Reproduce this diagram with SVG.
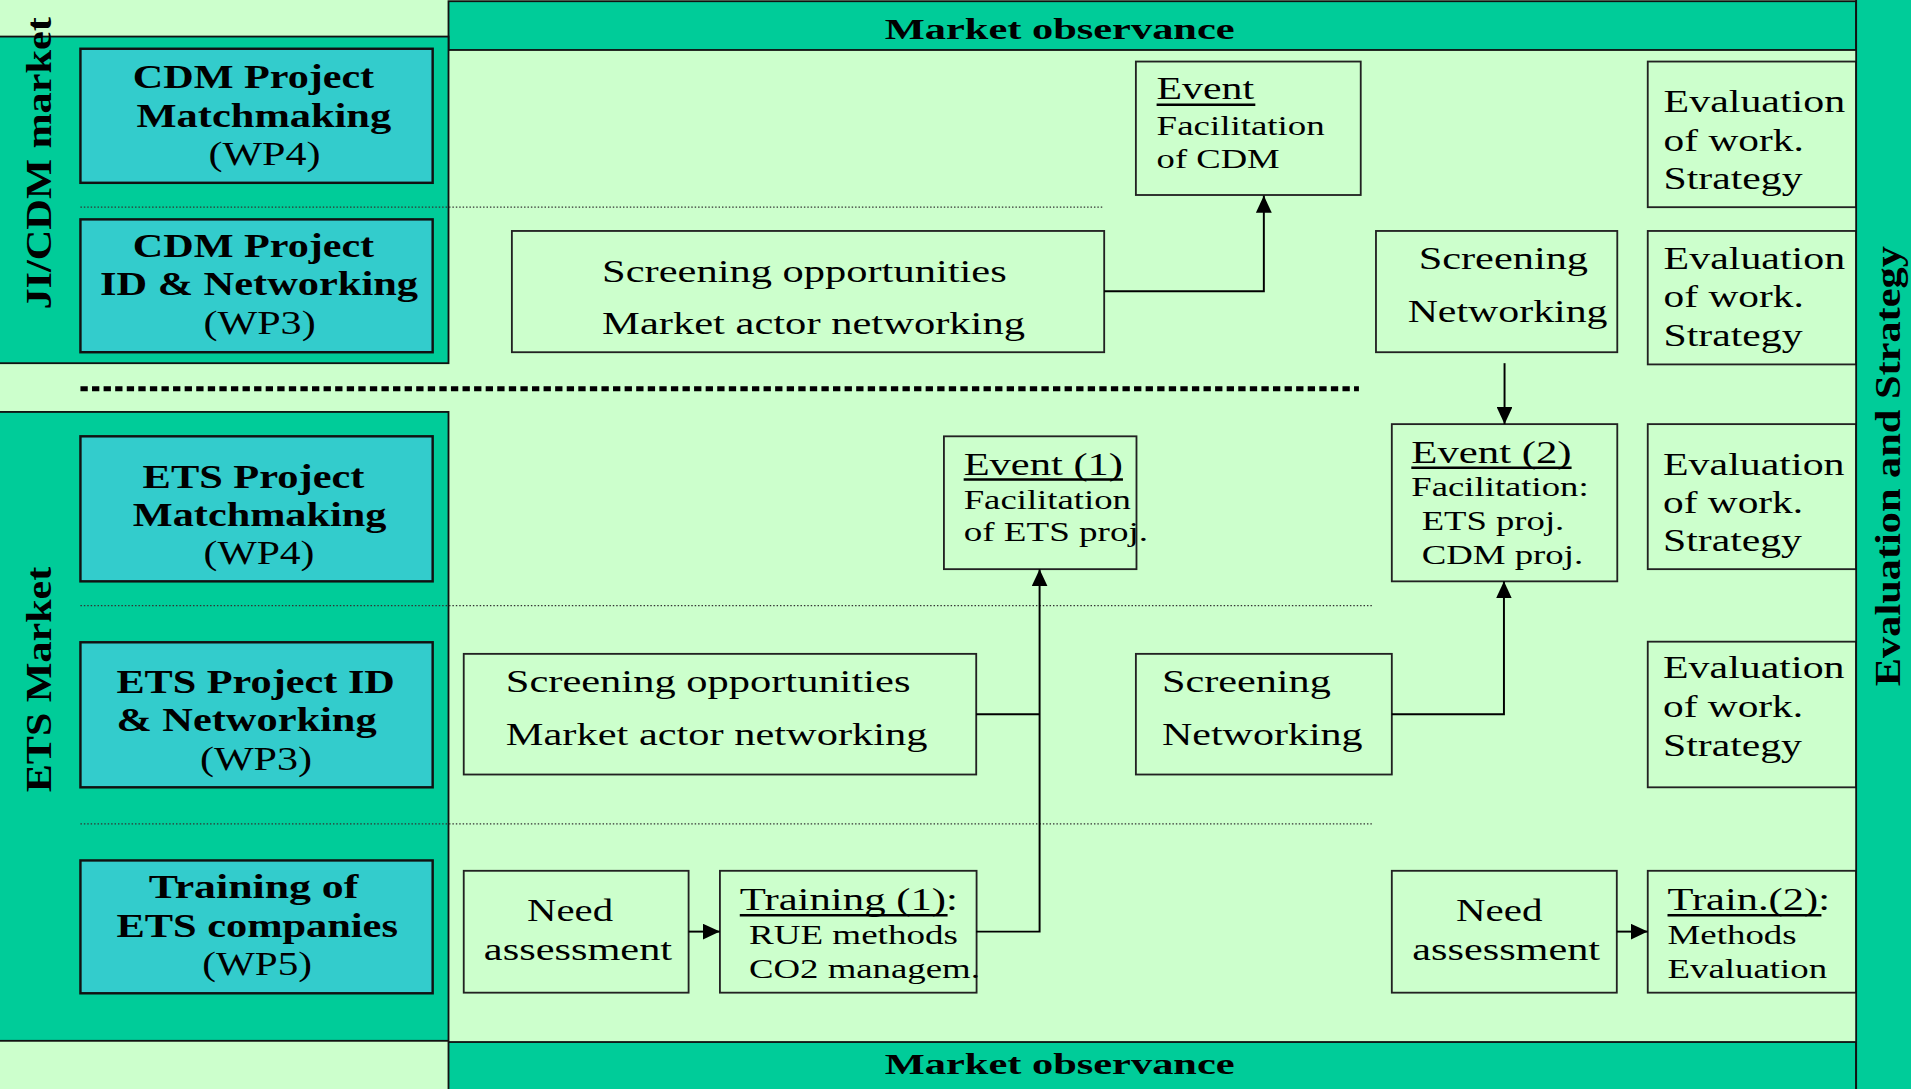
<svg xmlns="http://www.w3.org/2000/svg" width="1911" height="1089" viewBox="0 0 1911 1089">
<style>
.bg{fill:#CCFFCC}
.band{fill:#00CC99;stroke:#111;stroke-width:1.5}
.wp{fill:#33CCCC;stroke:#111;stroke-width:2}
.box{fill:#CCFFCC;stroke:#222;stroke-width:1.5}
text{font-family:"Liberation Serif","Times New Roman",serif;fill:#000}
.b{font-weight:bold;font-size:28px}
.r{font-size:28px}
.v{font-weight:bold;font-size:30px}
.mo{font-weight:bold;font-size:25px}
.t{font-size:26px}
.s{font-size:22px}
.ul{stroke:#000;stroke-width:2}
.conn{fill:none;stroke:#000;stroke-width:1.6}
.dot{stroke:#333;stroke-width:1;stroke-dasharray:1.2 1.6}
.dash{stroke:#000;stroke-width:4;stroke-dasharray:6 3.5}
</style>
<defs>
<marker id="ah" viewBox="0 0 14 13" refX="14" refY="6.5" markerWidth="14" markerHeight="13" orient="auto" markerUnits="userSpaceOnUse"><path d="M0,0 L14,6.5 L0,13 z" fill="#000"/></marker>
</defs>
<rect class="bg" x="0" y="0" width="1911" height="1089"/>
<g transform="scale(1.21875)">
<g id="market-observance-top">
<rect class="band" x="368" y="1" width="1155" height="40"/>
<text class="mo" x="726" y="32.3" textLength="287" lengthAdjust="spacingAndGlyphs">Market observance</text>
</g>
<g id="market-observance-bottom">
<rect class="band" x="368" y="855" width="1155" height="45"/>
<text class="mo" x="726" y="881" textLength="287" lengthAdjust="spacingAndGlyphs">Market observance</text>
</g>
<g id="ji-cdm-market">
<rect class="band" x="-2" y="30" width="370" height="268"/>
<text class="v" transform="translate(42,134) rotate(-90)" text-anchor="middle" textLength="240" lengthAdjust="spacingAndGlyphs">JI/CDM market</text>
</g>
<g id="ets-market">
<rect class="band" x="-2" y="338" width="370" height="516"/>
<text class="v" transform="translate(42,557.5) rotate(-90)" text-anchor="middle" textLength="185" lengthAdjust="spacingAndGlyphs">ETS Market</text>
</g>
<g id="dividers">
<line class="dot" x1="66" y1="170" x2="905" y2="170"/>
<line class="dash" x1="66" y1="319" x2="1115" y2="319"/>
<line class="dot" x1="66" y1="497" x2="1126" y2="497"/>
<line class="dot" x1="66" y1="676" x2="1126" y2="676"/>
</g>
<g id="cdm-matchmaking-wp4">
<rect class="wp" x="66" y="40" width="289" height="110"/>
<text class="b" x="109" y="72.5" textLength="198" lengthAdjust="spacingAndGlyphs">CDM Project</text>
<text class="b" x="112" y="104" textLength="209" lengthAdjust="spacingAndGlyphs">Matchmaking</text>
<text class="r" x="171" y="135.5" textLength="92" lengthAdjust="spacingAndGlyphs">(WP4)</text>
</g>
<g id="cdm-id-networking-wp3">
<rect class="wp" x="66" y="180" width="289" height="109"/>
<text class="b" x="109" y="211" textLength="198" lengthAdjust="spacingAndGlyphs">CDM Project</text>
<text class="b" x="82" y="242" textLength="261" lengthAdjust="spacingAndGlyphs">ID &amp; Networking</text>
<text class="r" x="167" y="274" textLength="92" lengthAdjust="spacingAndGlyphs">(WP3)</text>
</g>
<g id="ets-matchmaking-wp4">
<rect class="wp" x="66" y="358" width="289" height="119"/>
<text class="b" x="117" y="400" textLength="182" lengthAdjust="spacingAndGlyphs">ETS Project</text>
<text class="b" x="109" y="431.5" textLength="208" lengthAdjust="spacingAndGlyphs">Matchmaking</text>
<text class="r" x="167" y="463" textLength="91" lengthAdjust="spacingAndGlyphs">(WP4)</text>
</g>
<g id="ets-id-networking-wp3">
<rect class="wp" x="66" y="527" width="289" height="119"/>
<text class="b" x="95.5" y="568.5" textLength="228.5" lengthAdjust="spacingAndGlyphs">ETS Project ID</text>
<text class="b" x="95.5" y="600" textLength="213.5" lengthAdjust="spacingAndGlyphs">&amp; Networking</text>
<text class="r" x="164" y="632" textLength="92" lengthAdjust="spacingAndGlyphs">(WP3)</text>
</g>
<g id="training-ets-wp5">
<rect class="wp" x="66" y="706" width="289" height="109"/>
<text class="b" x="122" y="736.5" textLength="172" lengthAdjust="spacingAndGlyphs">Training of</text>
<text class="b" x="95.5" y="769" textLength="231" lengthAdjust="spacingAndGlyphs">ETS companies</text>
<text class="r" x="166" y="800" textLength="90" lengthAdjust="spacingAndGlyphs">(WP5)</text>
</g>
<g id="event-cdm">
<rect class="box" x="932" y="50.5" width="184.5" height="109.5"/>
<text class="t" x="949" y="81.3" textLength="80" lengthAdjust="spacingAndGlyphs">Event</text>
<line class="ul" x1="949" y1="86" x2="1030" y2="86"/>
<text class="s" x="949" y="111" textLength="138" lengthAdjust="spacingAndGlyphs">Facilitation</text>
<text class="s" x="949" y="138" textLength="101" lengthAdjust="spacingAndGlyphs">of CDM</text>
</g>
<g id="screening-cdm">
<rect class="box" x="420" y="189.5" width="486" height="99.5"/>
<text class="t" x="494" y="231" textLength="332" lengthAdjust="spacingAndGlyphs">Screening opportunities</text>
<text class="t" x="494" y="274" textLength="347" lengthAdjust="spacingAndGlyphs">Market actor networking</text>
</g>
<g id="screening-networking-cdm">
<rect class="box" x="1129" y="189.5" width="198" height="99.5"/>
<text class="t" x="1164" y="221" textLength="139" lengthAdjust="spacingAndGlyphs">Screening</text>
<text class="t" x="1155" y="264.6" textLength="164" lengthAdjust="spacingAndGlyphs">Networking</text>
</g>
<g id="evaluation-1">
<rect class="box" x="1352" y="50.5" width="171" height="119.5"/>
<text class="t" x="1365" y="91.7" textLength="149" lengthAdjust="spacingAndGlyphs">Evaluation</text>
<text class="t" x="1365" y="123.7" textLength="115" lengthAdjust="spacingAndGlyphs">of work.</text>
<text class="t" x="1365" y="155.4" textLength="114" lengthAdjust="spacingAndGlyphs">Strategy</text>
</g>
<g id="evaluation-2">
<rect class="box" x="1352" y="189.5" width="171" height="109.5"/>
<text class="t" x="1365" y="221" textLength="149" lengthAdjust="spacingAndGlyphs">Evaluation</text>
<text class="t" x="1365" y="252" textLength="115" lengthAdjust="spacingAndGlyphs">of work.</text>
<text class="t" x="1365" y="284" textLength="114" lengthAdjust="spacingAndGlyphs">Strategy</text>
</g>
<g id="event-1">
<rect class="box" x="774.5" y="358" width="158" height="109"/>
<text class="t" x="790.7" y="390" textLength="130.7" lengthAdjust="spacingAndGlyphs">Event (1)</text>
<line class="ul" x1="790.7" y1="393.5" x2="921.4" y2="393.5"/>
<text class="s" x="790.7" y="417.6" textLength="137.3" lengthAdjust="spacingAndGlyphs">Facilitation</text>
<text class="s" x="790.7" y="444" textLength="151.3" lengthAdjust="spacingAndGlyphs">of ETS proj.</text>
</g>
<g id="event-2">
<rect class="box" x="1142" y="348" width="185" height="129"/>
<text class="t" x="1158" y="380" textLength="131.5" lengthAdjust="spacingAndGlyphs">Event (2)</text>
<line class="ul" x1="1158" y1="383.8" x2="1289.5" y2="383.8"/>
<text class="s" x="1158" y="407" textLength="145.5" lengthAdjust="spacingAndGlyphs">Facilitation:</text>
<text class="s" x="1166.5" y="434.7" textLength="117" lengthAdjust="spacingAndGlyphs">ETS proj.</text>
<text class="s" x="1166.5" y="463" textLength="132.5" lengthAdjust="spacingAndGlyphs">CDM proj.</text>
</g>
<g id="evaluation-3">
<rect class="box" x="1352" y="348" width="171" height="119"/>
<text class="t" x="1364.5" y="389.5" textLength="149" lengthAdjust="spacingAndGlyphs">Evaluation</text>
<text class="t" x="1364.5" y="421" textLength="115" lengthAdjust="spacingAndGlyphs">of work.</text>
<text class="t" x="1364.5" y="452.5" textLength="114" lengthAdjust="spacingAndGlyphs">Strategy</text>
</g>
<g id="screening-ets">
<rect class="box" x="380.5" y="536.5" width="420.5" height="99"/>
<text class="t" x="415" y="568" textLength="332" lengthAdjust="spacingAndGlyphs">Screening opportunities</text>
<text class="t" x="415" y="611" textLength="346" lengthAdjust="spacingAndGlyphs">Market actor networking</text>
</g>
<g id="screening-networking-ets">
<rect class="box" x="932" y="536.5" width="210" height="99"/>
<text class="t" x="953.4" y="568" textLength="138.6" lengthAdjust="spacingAndGlyphs">Screening</text>
<text class="t" x="953.4" y="611.6" textLength="164.6" lengthAdjust="spacingAndGlyphs">Networking</text>
</g>
<g id="evaluation-4">
<rect class="box" x="1352" y="526.5" width="171" height="119.5"/>
<text class="t" x="1364.5" y="556.4" textLength="149" lengthAdjust="spacingAndGlyphs">Evaluation</text>
<text class="t" x="1364.5" y="588" textLength="115" lengthAdjust="spacingAndGlyphs">of work.</text>
<text class="t" x="1364.5" y="620" textLength="114" lengthAdjust="spacingAndGlyphs">Strategy</text>
</g>
<g id="need-assessment-1">
<rect class="box" x="380.5" y="714.5" width="184.5" height="100"/>
<text class="t" x="432.4" y="755.7" textLength="70.6" lengthAdjust="spacingAndGlyphs">Need</text>
<text class="t" x="397" y="787.7" textLength="154.5" lengthAdjust="spacingAndGlyphs">assessment</text>
</g>
<g id="training-1">
<rect class="box" x="590.7" y="714.5" width="210.6" height="100"/>
<text class="t" x="607" y="746.7" textLength="179" lengthAdjust="spacingAndGlyphs">Training (1):</text>
<line class="ul" x1="607" y1="751" x2="777.5" y2="751"/>
<text class="s" x="614.5" y="774.6" textLength="171.5" lengthAdjust="spacingAndGlyphs">RUE methods</text>
<text class="s" x="614.5" y="802.7" textLength="189.5" lengthAdjust="spacingAndGlyphs">CO2 managem.</text>
</g>
<g id="need-assessment-2">
<rect class="box" x="1142" y="714.5" width="184.6" height="100"/>
<text class="t" x="1194.6" y="755.7" textLength="71" lengthAdjust="spacingAndGlyphs">Need</text>
<text class="t" x="1158.8" y="787.7" textLength="154.1" lengthAdjust="spacingAndGlyphs">assessment</text>
</g>
<g id="training-2">
<rect class="box" x="1352" y="714.5" width="171" height="100"/>
<text class="t" x="1368.2" y="746.7" textLength="133.3" lengthAdjust="spacingAndGlyphs">Train.(2):</text>
<line class="ul" x1="1368.2" y1="751" x2="1494.5" y2="751"/>
<text class="s" x="1368.2" y="774.6" textLength="106" lengthAdjust="spacingAndGlyphs">Methods</text>
<text class="s" x="1368.2" y="802.7" textLength="131" lengthAdjust="spacingAndGlyphs">Evaluation</text>
</g>
<g id="evaluation-and-strategy">
<rect class="band" x="1523" y="-2" width="50" height="900"/>
<text class="v" transform="translate(1559,382.5) rotate(-90)" text-anchor="middle" textLength="361" lengthAdjust="spacingAndGlyphs">Evaluation and Strategy</text>
</g>
<g id="connectors">
<path class="conn" d="M906,239 H1037 V160.5" marker-end="url(#ah)"/>
<path class="conn" d="M1234.5,298 V348" marker-end="url(#ah)"/>
<path class="conn" d="M801,586 H853"/>
<path class="conn" d="M801,764.4 H853 V467" marker-end="url(#ah)"/>
<path class="conn" d="M1142,586 H1234 V477" marker-end="url(#ah)"/>
<path class="conn" d="M565,764.4 H590.7" marker-end="url(#ah)"/>
<path class="conn" d="M1326.6,764.4 H1352" marker-end="url(#ah)"/>
</g>
</g>
</svg>
